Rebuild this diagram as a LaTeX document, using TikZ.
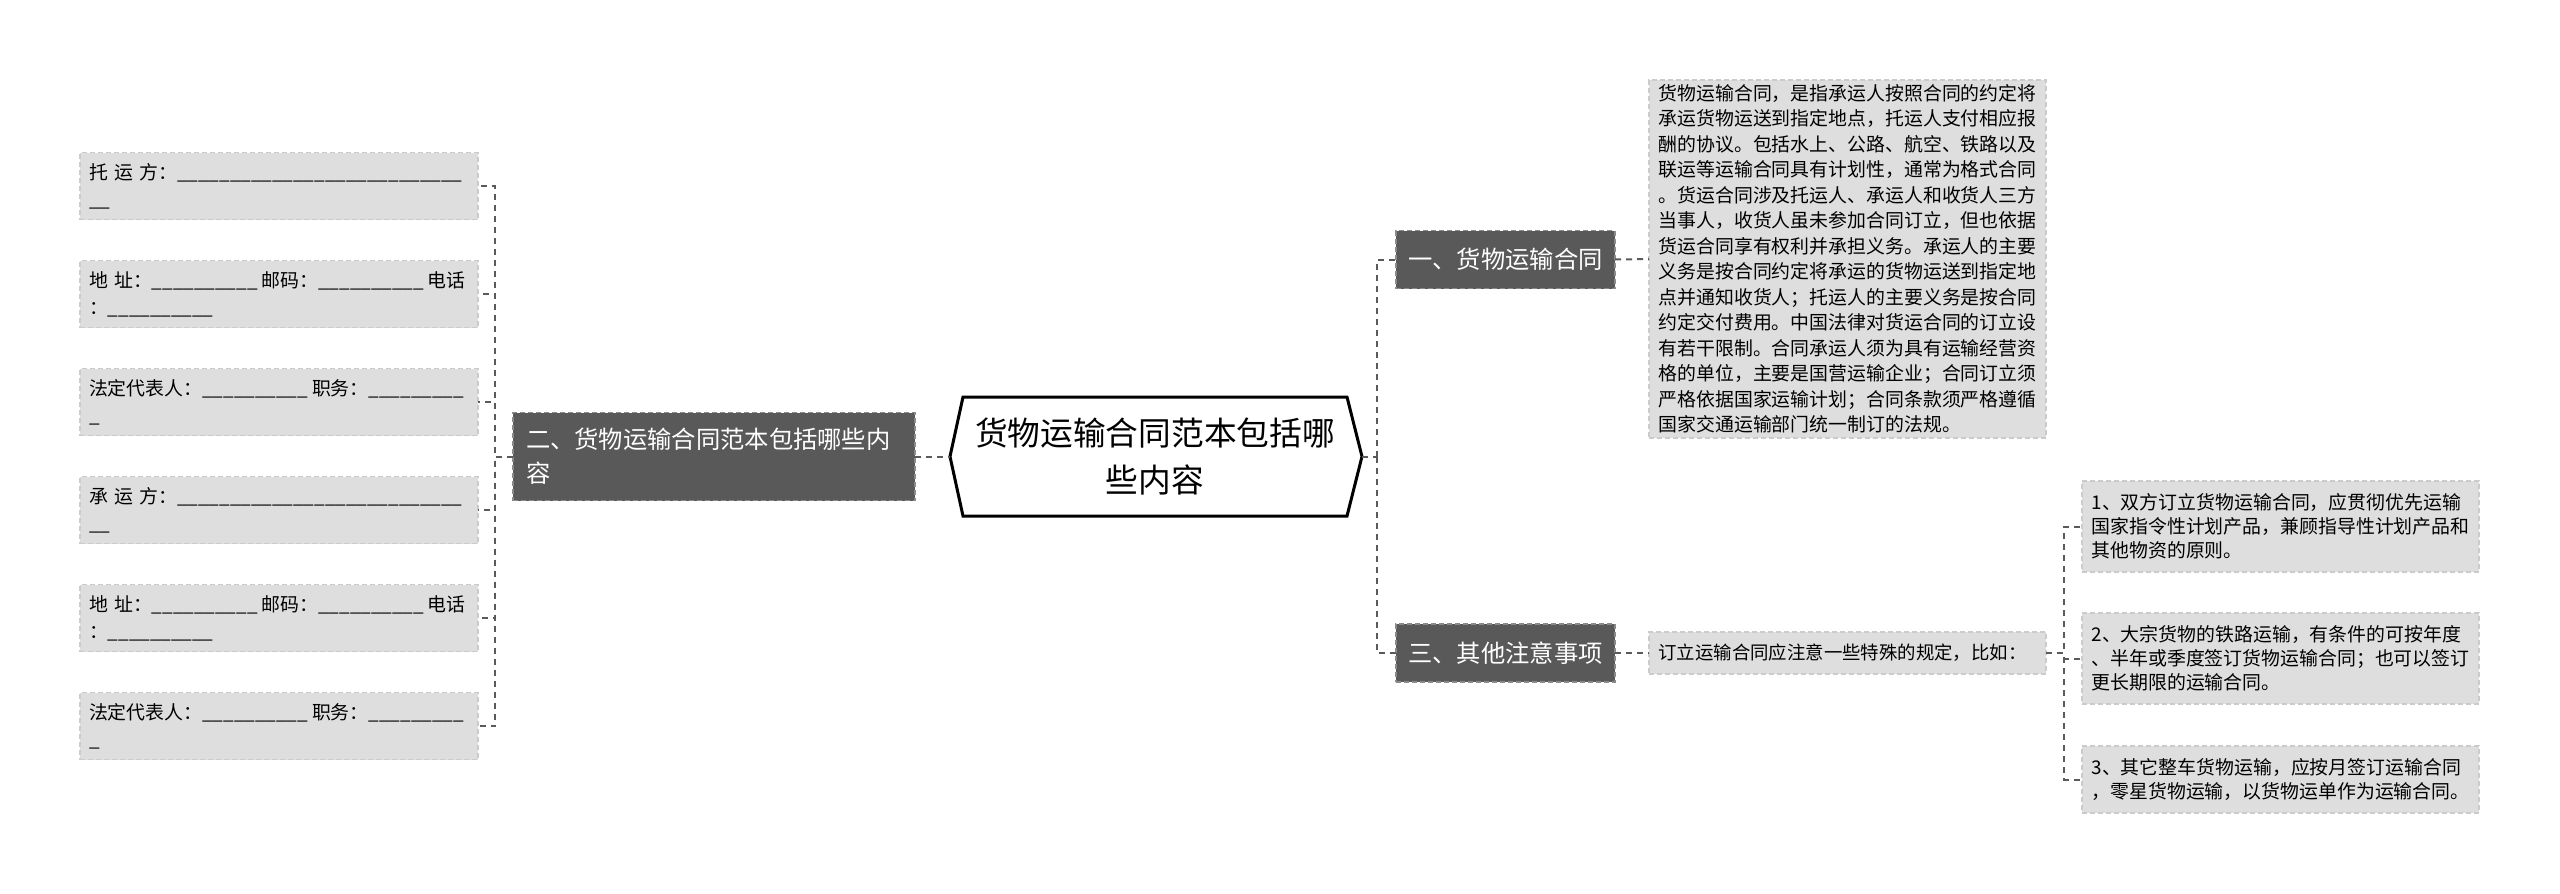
\documentclass[tikz,border=0pt]{standalone}
\usepackage{fontspec}
\setmainfont{Noto Sans CJK SC}
\usetikzlibrary{calc}
\definecolor{topicfill}{HTML}{595959}
\definecolor{topicedge}{HTML}{8A8A8A}
\definecolor{leaffill}{HTML}{DEDEDE}
\definecolor{leafedge}{HTML}{CBCBCB}
\definecolor{linkgray}{HTML}{5A5A5A}
\newcommand\blank[1]{\foreach \k in {1,...,#1}{\_}}

\begin{document}
\begin{tikzpicture}[x=1pt, y=-1pt,
    every node/.style={inner sep=0pt, outer sep=0pt},
    link/.style={draw=linkgray, line width=2pt, dash pattern=on 6pt off 5pt},
    topic/.style={fill=topicfill, draw=topicedge, line width=1.5pt, dash pattern=on 5pt off 3pt,
        text=white, font=\fontsize{24.3}{34}\selectfont},
    leaf/.style={fill=leaffill, draw=leafedge, line width=1.5pt, dash pattern=on 5pt off 3pt,
        text width=378pt, inner xsep=9.5pt, align=left, font=\fontsize{18.9}{24}\selectfont},
    blankleaf/.style={leaf, text width=380pt, inner xsep=9pt, minimum height=67pt,
        font=\fontsize{18.9}{27}\selectfont}]
    \useasboundingbox (0,0) rectangle (2560,894);

    \node[font=\fontsize{32.7}{47}\selectfont, align=center, minimum width=384pt, minimum height=119pt]
        (root) at (1155,456.5) {货物运输合同范本包括哪\\些内容};
    \draw[line width=3pt, line join=miter]
        (root.north west) -- (root.north east) -- ($(root.east)+(15,0)$) coordinate (rootR)
        -- (root.south east) -- (root.south west) -- ($(root.west)+(-13,0)$) coordinate (rootL) -- cycle;

    \node[topic, text width=376pt, inner xsep=13pt, minimum height=88pt, align=left]
        (n2) at (714,456.5) {二、货物运输合同范本包括哪些内\\容};
    \node[topic, minimum width=219pt, minimum height=58pt] (n1) at (1505.5,259.5) {一、货物运输合同};
    \node[topic, minimum width=219pt, minimum height=58pt] (n3) at (1505.5,653) {三、其他注意事项};

    \node[blankleaf] (l1) at (279,186) {托 运 方：\blank{27}\\\blank{2}};
    \node[blankleaf] (l2) at (279,294) {地 址：\blank{10}\kern4pt邮码：\blank{10}\kern4pt电话\\：\blank{10}};
    \node[blankleaf] (l3) at (279,402) {法定代表人：\blank{10}\kern4pt职务：\blank{9}\\\blank{1}};
    \node[blankleaf] (l4) at (279,510) {承 运 方：\blank{27}\\\blank{2}};
    \node[blankleaf] (l5) at (279,618) {地 址：\blank{10}\kern4pt邮码：\blank{10}\kern4pt电话\\：\blank{10}};
    \node[blankleaf] (l6) at (279,726) {法定代表人：\blank{10}\kern4pt职务：\blank{9}\\\blank{1}};

    \node[leaf, minimum height=358pt, font=\fontsize{18.9}{25.5}\selectfont] (d1) at (1847.5,259) {货物运输合同，是指承运人按照合同的约定将\\承运货物运送到指定地点，托运人支付相应报\\酬的协议。包括水上、公路、航空、铁路以及\\联运等运输合同具有计划性，通常为格式合同\\。货运合同涉及托运人、承运人和收货人三方\\当事人，收货人虽未参加合同订立，但也依据\\货运合同享有权利并承担义务。承运人的主要\\义务是按合同约定将承运的货物运送到指定地\\点并通知收货人；托运人的主要义务是按合同\\约定交付费用。中国法律对货运合同的订立设\\有若干限制。合同承运人须为具有运输经营资\\格的单位，主要是国营运输企业；合同订立须\\严格依据国家运输计划；合同条款须严格遵循\\国家交通运输部门统一制订的法规。};
    \node[leaf, minimum height=42pt, font=\fontsize{18.4}{24}\selectfont] (d3) at (1847.5,653) {订立运输合同应注意一些特殊的规定，比如：};

    \node[leaf, minimum height=91pt] (r1) at (2280.5,526.5) {1、双方订立货物运输合同，应贯彻优先运输\\国家指令性计划产品，兼顾指导性计划产品和\\其他物资的原则。};
    \node[leaf, minimum height=91pt] (r2) at (2280.5,658.5) {2、大宗货物的铁路运输，有条件的可按年度\\、半年或季度签订货物运输合同；也可以签订\\更长期限的运输合同。};
    \node[leaf, minimum height=67pt] (r3) at (2280.5,779.5) {3、其它整车货物运输，应按月签订运输合同\\，零星货物运输，以货物运单作为运输合同。};

    \coordinate (lbr) at (495,456.5);
    \coordinate (rbr) at (1377,456.5);
    \coordinate (sbr) at (2064,653);

    \draw[link] (n2.east) -- (rootL);
    \foreach \i in {1,...,6}
        \draw[link] (n2.west) -- (lbr) |- (l\i.east);
    \draw[link] (rootR) -- (rbr);
    \draw[link] (rbr) |- (n1.west);
    \draw[link] (rbr) |- (n3.west);
    \draw[link] (n1.east) -- (d1.west);
    \draw[link] (n3.east) -- (d3.west);
    \foreach \i in {1,2,3}
        \draw[link] (d3.east) -- (sbr) |- (r\i.west);
\end{tikzpicture}
\end{document}
